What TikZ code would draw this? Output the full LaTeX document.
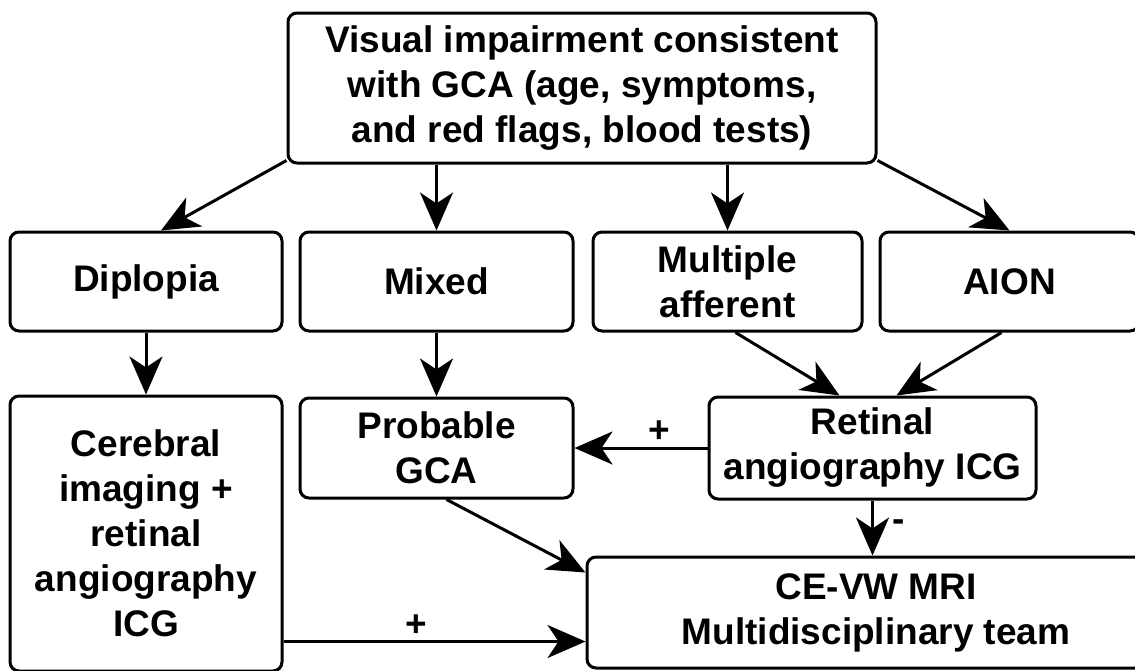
\documentclass[tikz,border=0pt]{standalone}
\usepackage{fontspec}
\setmainfont{Liberation Sans}
\usetikzlibrary{arrows.meta,positioning}

\tikzset{
	box/.style={draw, line width=3pt, rounded corners=9pt, inner sep=0pt, align=center,
		font=\fontsize{37}{45}\selectfont\bfseries},
	sign/.style={font=\fontsize{37}{45}\selectfont\bfseries, inner sep=4pt},
}

\begin{document}
\begin{tikzpicture}[x=1pt,y=-1pt,>={Stealth[length=38pt,width=33pt,inset=11pt]},line width=3pt]
	\useasboundingbox (0,0) rectangle (1135,670);

  			\node[box,minimum width=588pt,minimum height=150pt] (visual) at (582,88)
  				{Visual impairment consistent\\with GCA (age, symptoms,\\and red flags, blood tests)};
  			\node[box,minimum width=272pt,minimum height=99pt] (diplopia) at (146,281.5) {Diplopia};
  			\node[box,minimum width=273pt,minimum height=99pt] (mixed) [right=15pt of diplopia] {Mixed};
            \node[box,minimum width=269pt,minimum height=99pt] (multiple) [right=17pt of mixed] {Multiple\\afferent};
            \node[box,minimum width=259pt,minimum height=99pt] (aion) [right=15pt of multiple] {AION};
            \node[box,minimum width=272pt,minimum height=275pt] (cerebral) [below=62pt of diplopia]
            	{Cerebral\\imaging +\\retinal\\angiography\\ICG};
            \node[box,minimum width=273pt,minimum height=100pt] (probable) [below=64pt of mixed] {Probable\\GCA};
            \node[box,minimum width=327pt,minimum height=102pt] (retinal) [right=133pt of probable]
            	{Retinal\\angiography ICG};
            \node[box,minimum width=578pt,minimum height=111pt] (mri) at (876,612.5)
            	{CE-VW MRI\\Multidisciplinary team};
            \coordinate (mriin) at ([yshift=-29pt]mri.west);


  			\path[->] 
                     ([yshift=4pt]visual.south west) edge ([xshift=15pt]diplopia.north)
                     (visual.south -| mixed.north) edge (mixed.north)
                     (visual.south -| multiple.north) edge (multiple.north)
                     ([yshift=4pt]visual.south east) edge (aion.north)
                     (diplopia.south) edge (cerebral.north)
                     (mixed.south) edge (probable.north)
                     ([xshift=8pt]multiple.south) edge ([xshift=-33pt]retinal.north)
                     ([xshift=-8pt]aion.south) edge ([xshift=24pt]retinal.north)
                     (retinal.west) edge node [sign,above,pos=0.36] {+} (probable.east)
                     (retinal.south) edge node [sign,right=14pt,pos=0.45] {-} (retinal.south |- mri.north)
                     ([xshift=10pt]probable.south) edge ([yshift=-17pt]mri.north west)
                     (cerebral.east |- mriin) edge node [sign,above,pos=0.44] {+} (mriin);
        	         
            	 		
		\end{tikzpicture}
\end{document}
